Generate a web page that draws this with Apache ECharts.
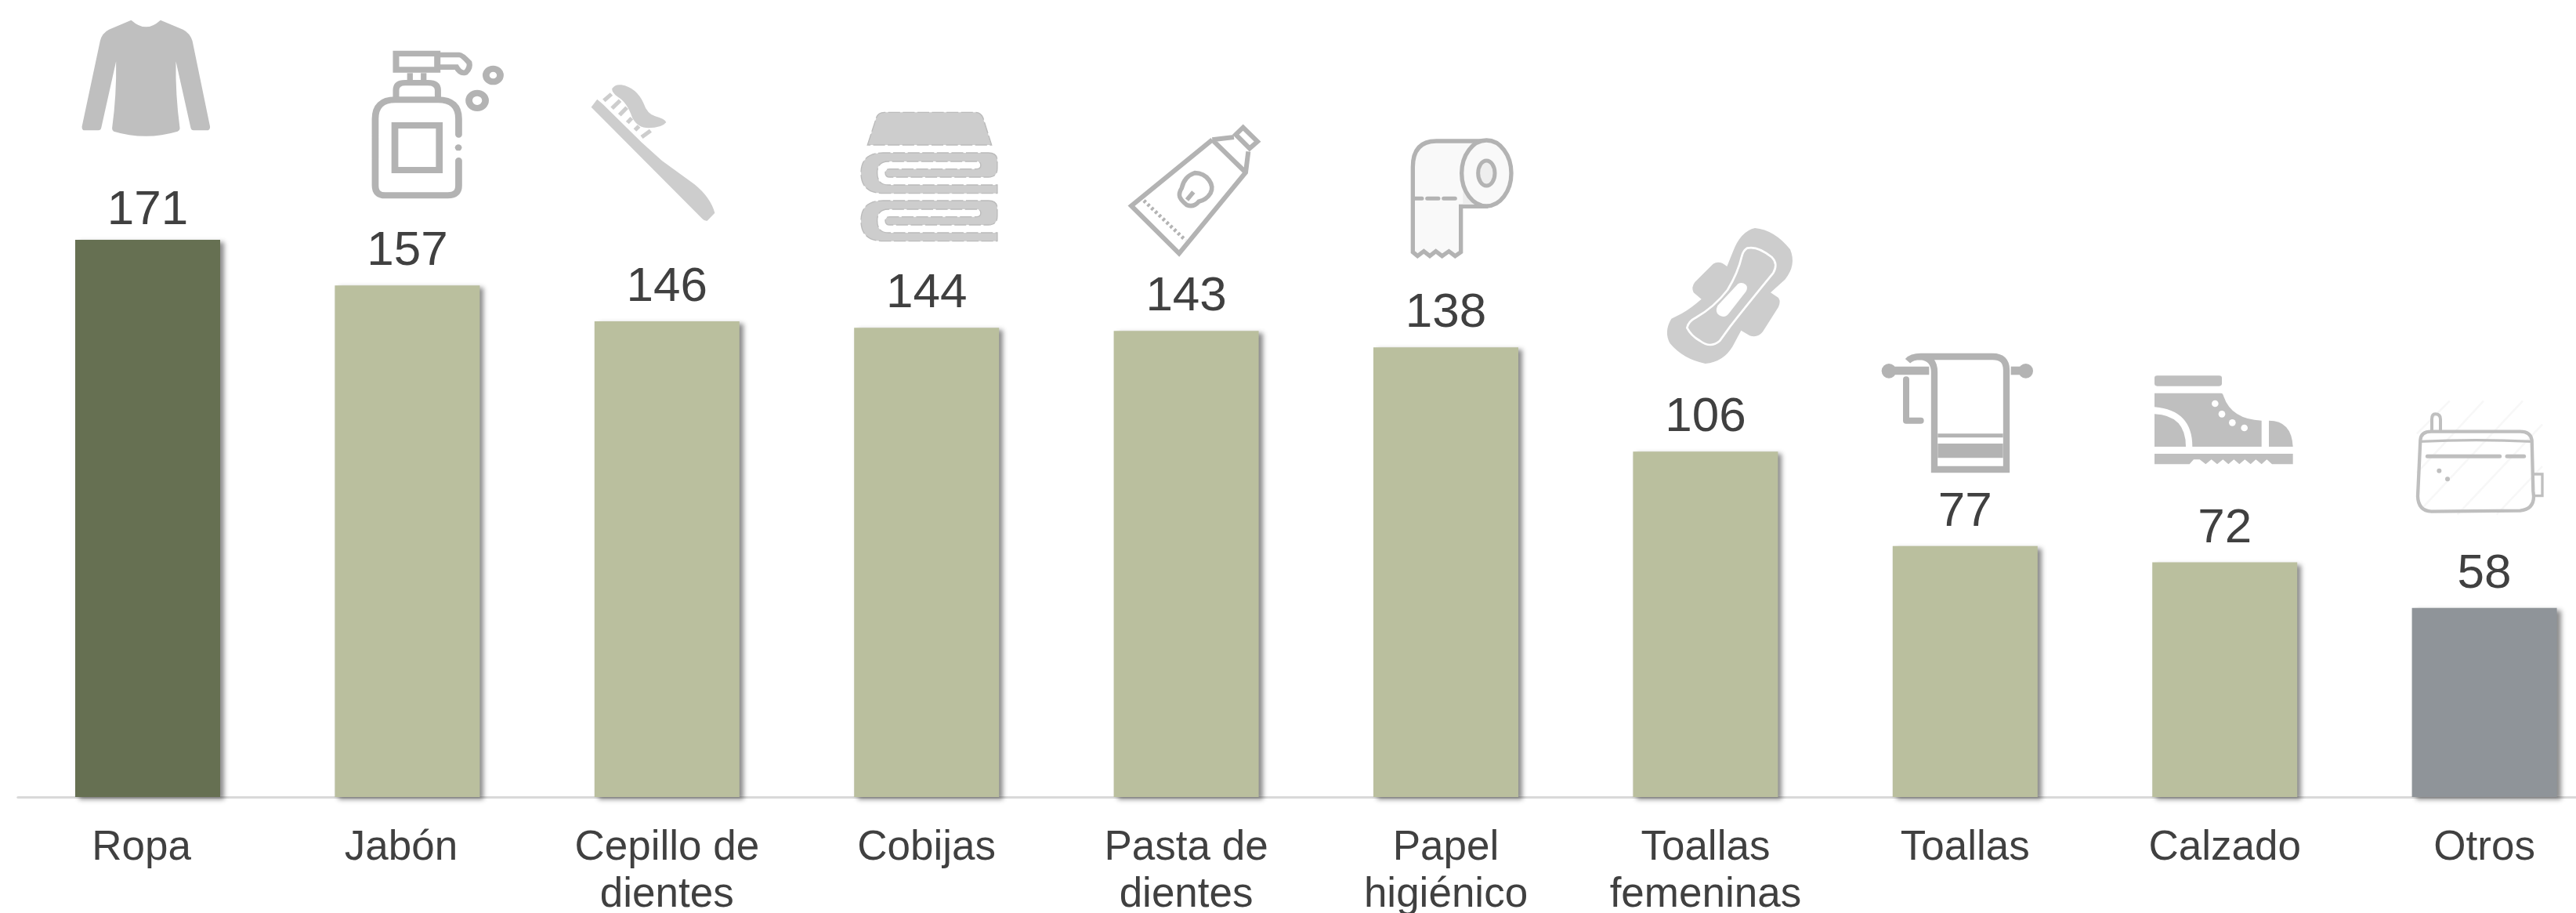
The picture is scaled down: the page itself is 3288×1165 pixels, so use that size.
<!DOCTYPE html>
<html>
<head>
<meta charset="utf-8">
<style>
  html, body { margin: 0; padding: 0; background: #fff; }
  #chart { width: 3288px; height: 1165px; }
</style>
<script src="https://cdn.jsdelivr.net/npm/echarts@6/dist/echarts.min.js"></script>
</head>
<body>
<div id="chart"></div>
<script>
var categories = ["Ropa", "Jabón", "Cepillo de\ndientes", "Cobijas", "Pasta de\ndientes", "Papel\nhigiénico", "Toallas\nfemeninas", "Toallas", "Calzado", "Otros"];
var values = [171, 157, 146, 144, 143, 138, 106, 77, 72, 58];

var GREY_A = "#bfbfbf", GREY_B = "#b3b3b3", GREY_C = "#cdcdcd";

// helpers for the small pictograms, coordinates are in zoomed crop pixels
function fill(d, color) {
    return { type: "path", shape: { pathData: d }, style: { fill: color, stroke: null } };
}
function line(d, color, w, extra) {
    var style = { fill: "none", stroke: color, lineWidth: w };
    for (var k in extra) style[k] = extra[k];
    return { type: "path", shape: { pathData: d }, style: style };
}
function stitched(d) {
    return { type: "path", shape: { pathData: d }, style: { fill: GREY_C, stroke: "#bbbbbb", lineWidth: 4, lineDash: [44, 10] } };
}
function ring(cx, cy, r, color, w) {
    return { type: "circle", shape: { cx: cx, cy: cy, r: r }, style: { fill: "none", stroke: color, lineWidth: w } };
}
function dot(cx, cy, r, color) {
    return { type: "circle", shape: { cx: cx, cy: cy, r: r }, style: { fill: color, stroke: null } };
}
function icon(x, y, sx, sy, children) {
    return { type: "group", x: x, y: y, scaleX: 1 / sx, scaleY: 1 / sy, silent: true, children: children };
}

var shirt = icon(90, 15, 2.751, 3, [
    fill("M213 32 Q240 58 265 58 Q290 58 316 32 L395 68 Q420 82 428 112 L490 440 Q490 454 478 454 L432 454 Q424 454 422 444 L370 190 Q368 320 384 446 Q384 454 376 458 Q320 476 265 476 Q205 476 152 458 Q146 454 146 446 Q162 320 160 190 L108 444 Q106 454 98 454 L50 454 Q40 454 40 440 L104 112 Q110 82 135 68 Z", GREY_A)
]);
var soap = icon(90, 15, 2.751, 3, [
    line("M1143 160 L1288 160 L1288 222 L1143 222 Z", GREY_B, 22),
    line("M1298 165 L1365 165 Q1375 165 1400 195 Q1405 215 1388 232 Q1370 240 1355 212 L1298 212", GREY_B, 20),
    line("M1192 235 L1192 262 M1240 235 L1240 262", GREY_B, 20),
    line("M1143 330 L1143 300 Q1143 272 1175 272 L1255 272 Q1290 272 1290 300 L1290 330", GREY_B, 22),
    line("M1363 470 L1363 410 Q1363 337 1290 337 L1140 337 Q1070 337 1070 410 L1070 665 Q1070 703 1105 703 L1325 703 Q1363 703 1363 665 L1363 570", GREY_B, 24, { lineCap: "round" }),
    dot(1362, 520, 12, GREY_B),
    line("M1139 435 L1295 435 L1295 606 L1139 606 Z", GREY_B, 24),
    ring(1484, 243, 25, GREY_B, 24),
    ring(1428, 340, 29, GREY_B, 24)
]);
var brush = icon(745, 100, 2.904, 3, [
    fill("M28 110 L50 80 L72 100 L215 245 L290 315 Q350 360 410 405 Q470 455 486 515 L458 545 Q448 547 440 538 Z", GREY_C),
    line("M75 85 L103 60 M105 115 L135 85 M133 140 L160 112 M162 170 L178 152 M190 198 L205 183 M215 225 L248 200", GREY_C, 15),
    fill("M105 40 Q115 22 140 25 Q195 35 222 95 Q235 135 265 145 Q300 155 306 168 Q290 190 240 190 Q200 190 180 150 Q160 90 125 70 Q105 55 105 40 Z", GREY_C)
]);
var towels = icon(745, 100, 2.904, 3, [
    stitched("M1052 255 L1085 150 Q1092 130 1115 130 L1450 130 Q1472 130 1480 150 L1512 255 Z"),
    stitched("M1500 285 Q1533 285 1533 315 L1533 345 Q1533 378 1500 378 L1135 378 Q1118 378 1118 362 Q1118 347 1135 347 L1455 347 Q1472 347 1472 332 Q1472 318 1455 318 L1130 318 Q1088 318 1088 362 Q1088 408 1130 408 L1533 408 L1533 440 L1110 440 Q1028 440 1028 362 Q1028 285 1110 285 Z"),
    stitched("M1500 468 Q1533 468 1533 498 L1533 528 Q1533 561 1500 561 L1135 561 Q1118 561 1118 545 Q1118 530 1135 530 L1455 530 Q1472 530 1472 515 Q1472 501 1455 501 L1130 501 Q1088 501 1088 545 Q1088 591 1130 591 L1533 591 L1533 623 L1110 623 Q1028 623 1028 545 Q1028 468 1110 468 Z")
]);
var tube = icon(1430, 150, 3, 3, [
    line("M352 85 L42 338 L225 520 L480 210 L490 130 M352 85 L435 75 M352 85 L480 210", GREY_B, 18),
    line("M470 38 L525 92 L495 118 L442 65 Z", GREY_B, 18),
    line("M285 212 Q320 212 340 240 Q358 265 345 290 Q330 315 300 322 Q280 345 255 335 Q235 320 228 305 Q222 290 235 270 Q245 225 285 212 Z M255 315 L280 285", GREY_B, 17),
    line("M90 318 L250 470", GREY_B, 14, { lineDash: [10, 10] })
]);
var roll = icon(1430, 150, 3, 3, [
    { type: "path", shape: { pathData: "M1400 90 L1210 90 Q1120 90 1120 190 L1120 515 L1138 530 L1162 512 L1185 530 L1208 512 L1232 530 L1258 512 L1282 530 L1304 515 L1304 340 L1400 340 Z" }, style: { fill: "#f9f9f9", stroke: GREY_B, lineWidth: 16 } },
    fill("M1312 285 L1360 332 L1312 332 Z", "#eeeeee"),
    { type: "ellipse", shape: { cx: 1402, cy: 213, rx: 95, ry: 126 }, style: { fill: "#f9f9f9", stroke: GREY_B, lineWidth: 16 } },
    { type: "ellipse", shape: { cx: 1402, cy: 213, rx: 32, ry: 48 }, style: { fill: "#eeeeee", stroke: GREY_B, lineWidth: 15 } },
    line("M1125 310 L1155 310 M1175 310 L1218 310 M1238 310 L1282 310", GREY_B, 15, { lineCap: "round" })
]);
var pad = icon(2115, 285, 3, 3, [
    fill("M290 110 Q320 30 375 18 Q450 25 510 100 Q535 160 490 215 L435 265 L465 285 Q475 300 465 320 L405 415 Q385 440 355 430 L322 410 L290 470 Q255 530 185 537 Q100 520 50 460 Q25 415 55 365 L95 345 Q130 325 170 290 L140 265 Q130 245 145 225 L215 155 Q240 140 268 165 Z", GREY_C),
    line("M345 95 Q385 85 440 130 Q465 155 445 190 Q330 330 280 395 L240 450 Q205 480 165 450 Q130 430 115 400 Q120 375 150 360 Q220 320 270 255 Q310 190 325 125 Q330 105 345 95 Z", "#fff", 8),
    fill("M310 232 Q325 222 340 235 Q350 245 340 262 L275 345 Q260 365 238 352 Q220 340 232 315 Z", "#fff")
]);
var rack = icon(2115, 285, 3, 3, [
    dot(888, 565, 28, GREY_B),
    fill("M888 548 L1042 548 L1042 580 L888 580 Z", GREY_B),
    fill("M1355 548 L1410 548 L1410 580 L1355 580 Z", GREY_B),
    dot(1412, 565, 28, GREY_B),
    line("M960 527 Q975 510 1010 510 L1285 510 Q1338 510 1338 562 L1338 942 L1062 942 L1062 570 Q1062 515 1010 510", GREY_B, 25),
    fill("M1075 805 L1325 805 L1325 820 L1075 820 Z", GREY_B),
    fill("M1075 843 L1325 843 L1325 898 L1075 898 Z", GREY_B),
    line("M954 598 L954 755 L1010 755", GREY_B, 24, { lineJoin: "round", lineCap: "round" })
]);
var boot = icon(2740, 470, 3, 3, [
    fill("M40 28 L278 28 Q288 28 288 38 L288 58 Q288 68 278 68 L40 68 Q30 68 30 58 L30 38 Q30 28 40 28 Z", GREY_A),
    fill("M30 95 L285 95 Q292 95 295 108 Q325 195 440 200 L440 300 L175 300 Q175 160 30 148 Z", GREY_A),
    fill("M30 175 Q150 180 150 300 L30 300 Z", GREY_A),
    fill("M468 200 Q555 200 560 300 L468 300 Z", GREY_A),
    fill("M30 327 L560 327 L560 367 L480 367 L460 349 L440 367 L418 349 L398 367 L376 349 L355 367 L334 349 L313 367 L292 349 L270 367 L248 349 L226 367 L203 349 L180 349 L164 367 L30 367 Z", GREY_A),
    dot(262, 135, 13, "#fff"),
    dot(288, 175, 13, "#fff"),
    dot(328, 208, 13, "#fff"),
    dot(374, 228, 13, "#fff")
]);
var pouch = icon(2740, 470, 3, 3, [
    line("M1035 250 L1160 125 M1035 400 L1290 125 M1060 530 L1440 125 M1190 560 L1515 215 M1340 560 L1515 375", "#f7f7f7", 7),
    line("M1092 240 L1092 195 Q1092 175 1105 175 Q1125 175 1125 195 L1125 240", GREY_A, 12),
    line("M1048 275 Q1050 242 1090 242 L1430 242 Q1470 242 1475 275 L1480 470 L1482 490 Q1482 540 1430 545 L1090 548 Q1040 545 1038 490 Z", GREY_A, 13),
    line("M1048 280 Q1260 270 1475 280", GREY_A, 10),
    line("M1075 337 L1352 337 M1380 337 L1445 337", GREY_A, 15, { lineCap: "round" }),
    dot(1120, 392, 9, GREY_A),
    dot(1152, 424, 9, GREY_A),
    line("M1482 405 L1515 405 L1515 488 L1482 488", GREY_A, 10)
]);
var iconList = [shirt, soap, brush, towels, tube, roll, pad, rack, boot, pouch];

var myChart = echarts.init(document.getElementById("chart"));
var option = {
    animation: false,
    backgroundColor: "#fff",
    grid: { left: 22.8, top: 19, width: 3314, height: 998, outerBoundsMode: "none" },
    xAxis: {
        type: "category",
        data: categories.map(function (name, i) {
            // the first two labels sit a little left of their bars
            return i < 2 ? { value: name, textStyle: { padding: [0, 16, 0, 0] } } : name;
        }),
        axisTick: { show: false },
        axisLine: { lineStyle: { color: "#d9d9d9", width: 3 } },
        axisLabel: {
            interval: 0,
            margin: 35,
            color: "#404040",
            fontFamily: "Liberation Sans",
            fontSize: 53,
            lineHeight: 60
        }
    },
    yAxis: { type: "value", min: 0, max: 240, show: false, splitLine: { show: false } },
    series: [{
        type: "bar",
        data: values.map(function (v, i) {
            // the first value label sits closer to its bar than the others
            return i === 0 ? { value: v, label: { distance: 6 } } : v;
        }),
        barWidth: 185,
        itemStyle: {
            color: function (p) {
                if (p.dataIndex === 0) return "#667052";
                if (p.dataIndex === categories.length - 1) return "#8f9499";
                return "#babf9e";
            },
            shadowColor: "rgba(0,0,0,0.45)",
            shadowBlur: 6,
            shadowOffsetX: 5,
            shadowOffsetY: 3
        },
        label: {
            show: true,
            position: "top",
            distance: 12,
            color: "#404040",
            fontFamily: "Liberation Sans",
            fontSize: 62
        }
    }, {
        // pictograms above the bars, one per category
        type: "custom",
        clip: false,
        silent: true,
        data: values,
        renderItem: function (params) {
            return iconList[params.dataIndex];
        }
    }]
};
myChart.setOption(option);
</script>
</body>
</html>
